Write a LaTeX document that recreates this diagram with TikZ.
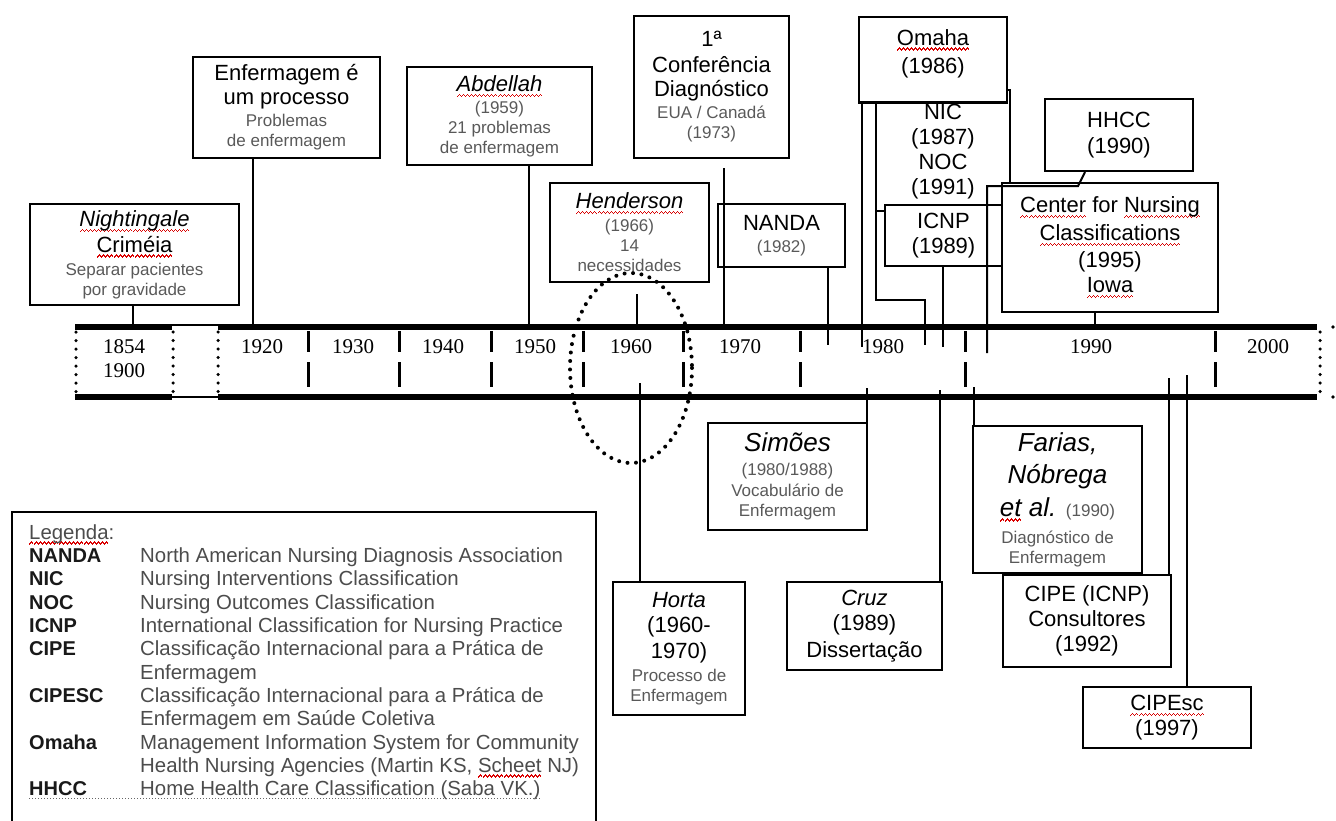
\documentclass[tikz,border=0pt]{standalone}
\usepackage{fontspec}
\setmainfont{Liberation Sans}
\newfontfamily\yrfont{Liberation Serif}
\newsavebox{\spellbox}
\newcommand{\spell}[1]{\sbox{\spellbox}{#1}\leavevmode\rlap{\color{red!85!black}\hbox to \wd\spellbox{\xleaders\hbox{\rule[-5.5pt]{1pt}{1.1pt}\rule[-4.5pt]{1pt}{1.1pt}\rule[-3.5pt]{1pt}{1.1pt}\rule[-4.5pt]{1pt}{1.1pt}}\hfill}}\usebox{\spellbox}}
\newcommand{\txtbig}{\fontsize{22}{20}\selectfont}
\newcommand{\txthuge}{\fontsize{26}{20}\selectfont}
\newcommand{\txtsmall}{\fontsize{17}{20}\selectfont\color{black!65}}

\begin{document}
\begin{tikzpicture}
[x=1pt,y=-1pt,
box/.style={draw,line width=2.2pt,align=center,inner sep=0pt,font=\fontsize{22}{20}\selectfont},
conn/.style={line width=2pt},
bar/.style={line width=5.5pt},
tickmark/.style={line width=3pt},
dots/.style={line width=4pt,line cap=round,dash pattern=on 0pt off 8.5pt},
year/.style={font=\yrfont\fontsize{21}{21}\selectfont,inner sep=0pt},
leg/.style={anchor=base west,inner sep=0pt,font=\fontsize{20.4}{23}\selectfont,text=black!70},
legkey/.style={anchor=base west,inner sep=0pt,font=\fontsize{20}{23}\selectfont\bfseries,text=black!90},]

\useasboundingbox (0,0) rectangle (1336,821);

%Boxes above the time line
\node[box,minimum width=209,minimum height=101] (night) at (134.5,254.5) {\txtbig\textit{\spell{Nightingale}}\\[3pt] \txtbig\spell{Criméia}\\[3pt] \txtsmall Separar pacientes\\ \txtsmall por gravidade};
\node[box,minimum width=187,minimum height=101] (proc) at (286.5,107.5) {\txtbig Enfermagem é\\[4pt] \txtbig um processo\\[2pt] \txtsmall Problemas\\ \txtsmall de enfermagem};
\node[box,minimum width=185,minimum height=98] (abd) at (499.5,116) {\txtbig\textit{\spell{Abdellah}}\\[2pt] \txtsmall (1959)\\ \txtsmall 21 problemas\\ \txtsmall de enfermagem};
\node[box,minimum width=155,minimum height=142] (conf) at (711.5,87) {\txtbig 1ª\\[6pt] \txtbig Conferência\\[4pt] \txtbig Diagnóstico\\[2pt] \txtsmall EUA / Canadá\\ \txtsmall (1973)};
\node[box,minimum width=159,minimum height=99] (hend) at (629.5,232.5) {\txtbig\textit{\spell{Henderson}}\\[3pt] \txtsmall (1966)\\ \txtsmall 14\\ \txtsmall necessidades};
\node[box,minimum width=127,minimum height=63] (nanda) at (781.5,235.5) {\txtbig NANDA\\[2pt] \txtsmall (1982)};
\node[box,anchor=north,minimum width=148,inner ysep=12pt,text depth=17pt] (omaha) at (933,16) {\txtbig\spell{Omaha}\\[6pt] \txtbig (1986)};
\node[align=center,inner sep=0pt,font=\fontsize{22}{20}\selectfont] (nicnoc) at (943,152) {\txtbig NIC\\[5pt] \txtbig (1987)\\[5pt] \txtbig NOC\\[5pt] \txtbig (1991)};
\node[box,minimum width=117,minimum height=61] (icnp) at (943.5,235.5) {\txtbig ICNP\\[5pt] \txtbig (1989)};
\node[box,minimum width=148,minimum height=72] (hhcc) at (1119,135) {\txtbig HHCC\\[6pt] \txtbig (1990)};
\node[box,minimum width=216,minimum height=129] (cnc) at (1110,247.5) {\txtbig\spell{Center} for \spell{Nursing}\\[5pt] \txtbig\spell{Classifications}\\[5pt] \txtbig (1995)\\[5pt] \txtbig\spell{Iowa}};

%Boxes below the time line
\node[box,minimum width=159,minimum height=107] (simoes) at (787.5,476.5) {\txthuge\textit{Simões}\\[4pt] \txtsmall (1980/1988)\\[1pt] \txtsmall Vocabulário de\\ \txtsmall Enfermagem};
\node[box,minimum width=132,minimum height=133] (horta) at (679,648.5) {\txtbig\textit{Horta}\\[5pt] \txtbig (1960-\\[5pt] \txtbig 1970)\\[3pt] \txtsmall Processo de\\ \txtsmall Enfermagem};
\node[box,minimum width=155,minimum height=88] (cruz) at (864.5,626) {\txtbig\textit{Cruz}\\[5pt] \txtbig (1989)\\[5pt] \txtbig Dissertação};
\node[box,minimum width=169,minimum height=147] (farias) at (1057.5,499.5) {\txthuge\textit{Farias,}\\[9pt] \txthuge\textit{Nóbrega}\\[7pt] \txthuge\textit{\spell{et} al.} \txtsmall (1990)\\[7pt] \txtsmall Diagnóstico de\\ \txtsmall Enfermagem};
\node[box,minimum width=168,minimum height=92] (cipe) at (1087,621) {\txtbig CIPE (ICNP)\\[4pt] \txtbig Consultores\\[5pt] \txtbig (1992)};
\node[box,minimum width=168,minimum height=61] (cipesc) at (1167,717.5) {\txtbig\spell{CIPEsc}\\[2pt] \txtbig (1997)};

%Points on the time line
\coordinate (tNight) at (133,327);
\coordinate (tProc) at (253,327);
\coordinate (tAbd) at (529,327);
\coordinate (tConf) at (724,327);
\coordinate (tHend) at (637,327);
\coordinate (tNanda) at (828,345);
\coordinate (tOmaha) at (862,347);
\coordinate (kNic) at (876,300);
\coordinate (tNic) at (925,345);
\coordinate (tIcnp) at (943,347);
\coordinate (kOmaha) at (1010,90);
\coordinate (tHhcc) at (987,353);
\coordinate (tCnc) at (1095,327);
\coordinate (bHorta) at (640,383);
\coordinate (bSimoes) at (867,388);
\coordinate (bCruz) at (940,390);
\coordinate (bFarias) at (974,387);
\coordinate (bCipe) at (1169,378);
\coordinate (bCipesc) at (1187,375);

%Joining boxes to the time line
\draw[conn] (tNight |- night.south) -- (tNight);
\draw[conn] (tProc |- proc.south) -- (tProc);
\draw[conn] (tAbd |- abd.south) -- (tAbd);
\draw[conn,shorten <=9pt] (tConf |- conf.south) -- (tConf);
\draw[conn,shorten <=11pt] (tHend |- hend.south) -- (tHend);
\draw[conn] (tNanda |- nanda.south) -- (tNanda);
\draw[conn] (tOmaha |- omaha.south) -- (tOmaha);
\draw[conn] (kNic |- omaha.south) -- (kNic) -| (tNic);
\draw[conn] ([yshift=-7pt]icnp.north west) -- ([yshift=-7pt]icnp.north west -| kNic);
\draw[conn] (tIcnp |- icnp.south) -- (tIcnp);
\draw[conn] (omaha.east |- kOmaha) -- (kOmaha) -- (kOmaha |- cnc.north);
\draw[conn] ([xshift=-34pt]hhcc.south) -- ++(-7,14) -| (tHhcc);
\draw[conn] (tCnc |- cnc.south) -- (tCnc);
\draw[conn] (bHorta) -- (bHorta |- horta.north);
\draw[conn] (bSimoes) -- (bSimoes |- simoes.north);
\draw[conn] (bCruz) -- (bCruz |- cruz.north);
\draw[conn] (bFarias) -- (bFarias |- farias.north);
\draw[conn] (bCipe) -- (bCipe |- cipe.north);
\draw[conn] (bCipesc) -- (bCipesc |- cipesc.north);

%Time line
\draw[bar] (75,327) -- (172,327) (218,327) -- (1317,327);
\draw[bar] (75,397) -- (172,397) (218,397) -- (1317,397);
\draw[line width=1.5pt] (172,325) -- (218,325) (172,397) -- (218,397);
\foreach \x in {76,173,218,1320}
  \draw[dots,line width=3.5pt] (\x,332) -- (\x,394);
\fill (1333,327) circle (1.8) (1333,397) circle (1.8);
\foreach \x in {308,399,491,583,683,800,965,1215}
  \draw[tickmark] (\x,331) -- (\x,352) (\x,362) -- (\x,387);

%Years
\node[year] (y1854) at (124,347) {1854};
\node[year] (y1900) at (124,371) {1900};
\node[year] (y1920) at (262,347) {1920};
\node[year] (y1930) at (353,347) {1930};
\node[year] (y1940) at (443,347) {1940};
\node[year] (y1950) at (535,347) {1950};
\node[year] (y1960) at (631,347) {1960};
\node[year] (y1970) at (740,347) {1970};
\node[year] (y1980) at (883,347) {1980};
\node[year] (y1990) at (1091,347) {1990};
\node[year] (y2000) at (1268,347) {2000};

%Marking the sixties
\draw[dots] (631,368) ellipse [x radius=61,y radius=95];

%Legend
\draw[line width=1.5pt] (12,821) |- (596,512) -- (596,821);
\node[leg] (lhead) at (29,539) {\spell{Legenda}:};
\node[legkey] (knanda) at (29,562) {NANDA};
\node[leg] (dnanda) at (140,562) {North American Nursing Diagnosis Association};
\node[legkey] (knic) at (29,585) {NIC};
\node[leg] (dnic) at (140,585) {Nursing Interventions Classification};
\node[legkey] (knoc) at (29,609) {NOC};
\node[leg] (dnoc) at (140,609) {Nursing Outcomes Classification};
\node[legkey] (kicnp) at (29,632) {ICNP};
\node[leg] (dicnp) at (140,632) {International Classification for Nursing Practice};
\node[legkey] (kcipe) at (29,655) {CIPE};
\node[leg] (dcipe) at (140,655) {Classificação Internacional para a Prática de};
\node[leg] (dcipeb) at (140,679) {Enfermagem};
\node[legkey] (kcipesc) at (29,702) {CIPESC};
\node[leg] (dcipesc) at (140,702) {Classificação Internacional para a Prática de};
\node[leg] (dcipescb) at (140,725) {Enfermagem em Saúde Coletiva};
\node[legkey] (komaha) at (29,749) {Omaha};
\node[leg] (domaha) at (140,749) {Management Information System for Community};
\node[leg] (domahab) at (140,772) {Health Nursing Agencies (Martin KS, \spell{Scheet} NJ)};
\node[legkey] (khhcc) at (29,795) {HHCC};
\node[leg] (dhhcc) at (140,795) {Home Health Care Classification (Saba VK.)};
\draw[dotted,line width=1pt,black!60] ([yshift=-3pt]khhcc.base west) -- ([yshift=-3pt]dhhcc.base east);

\end{tikzpicture}
\end{document}
